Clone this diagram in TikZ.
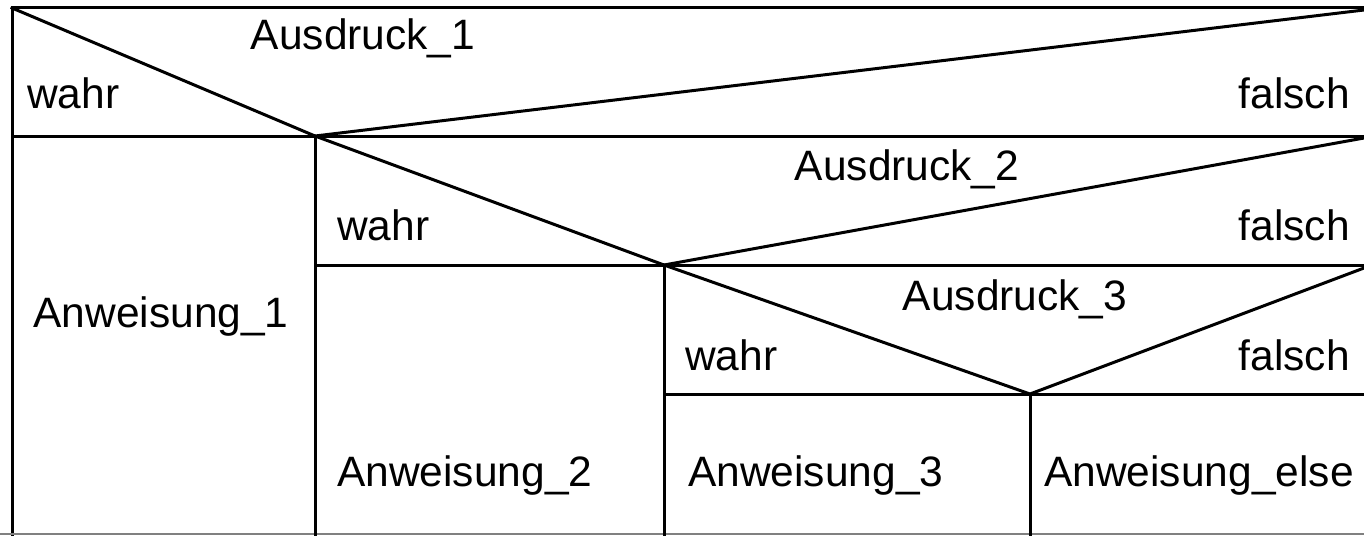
\documentclass[tikz,border=0pt]{standalone}
\usepackage{fontspec}
\setmainfont{Liberation Sans}
\begin{document}
\begin{tikzpicture}[x=1pt,y=-1pt,
  rule/.style={line width=3pt, line cap=rect},
  lbl/.style={inner sep=0pt, font=\fontsize{42.5}{50}\selectfont}]
\useasboundingbox (0,0) rectangle (1364,535);
% corner points of the nested decisions
\coordinate (tl) at (12,8);
\coordinate (tr) at (1364,8);
\coordinate (p1) at (315,136);
\coordinate (r1) at (1364,136);
\coordinate (l1) at (12,136);
\coordinate (p2) at (664,265);
\coordinate (r2) at (1364,265);
\coordinate (p3) at (1030,394);
\coordinate (r3) at (1364,394);
\coordinate (bl) at (12,535);
% outer frame
\draw[rule] (bl) -- (tl) -- (tr);
\draw[line width=1.5pt, gray] (0,534) -- (1364,534);
% decision 1
\draw[rule] (tl) -- (p1) -- (1364,10);
\draw[rule] (l1) -- (r1);
\draw[rule] (p1) -- (315,535);
% decision 2
\draw[rule] (p1) -- (p2) -- (1364,138);
\draw[rule] (p1 |- p2) -- (r2);
\draw[rule] (p2) -- (664,535);
% decision 3
\draw[rule] (p2) -- (p3) -- (1364,268);
\draw[rule] (p2 |- p3) -- (r3);
\draw[rule] (p3) -- (1030,535);
% texts
\node[lbl, anchor=base] (a1) at (363,50) {Ausdruck\_1};
\node[lbl, anchor=base west] (w1) at (27,108) {wahr};
\node[lbl, anchor=base east] (f1) at (1350,108) {falsch};
\node[lbl, anchor=base] (a2) at (907,180) {Ausdruck\_2};
\node[lbl, anchor=base west] (w2) at (337,240) {wahr};
\node[lbl, anchor=base east] (f2) at (1350,240) {falsch};
\node[lbl, anchor=base] (a3) at (1015,310) {Ausdruck\_3};
\node[lbl, anchor=base west] (w3) at (685,370) {wahr};
\node[lbl, anchor=base east] (f3) at (1350,370) {falsch};
\node[lbl, anchor=base] (n1) at (161,327) {Anweisung\_1};
\node[lbl, anchor=base west] (n2) at (337,486) {Anweisung\_2};
\node[lbl, anchor=base west] (n3) at (688,486) {Anweisung\_3};
\node[lbl, anchor=base west] (ne) at (1044,486) {Anweisung\_else};
\end{tikzpicture}
\end{document}
